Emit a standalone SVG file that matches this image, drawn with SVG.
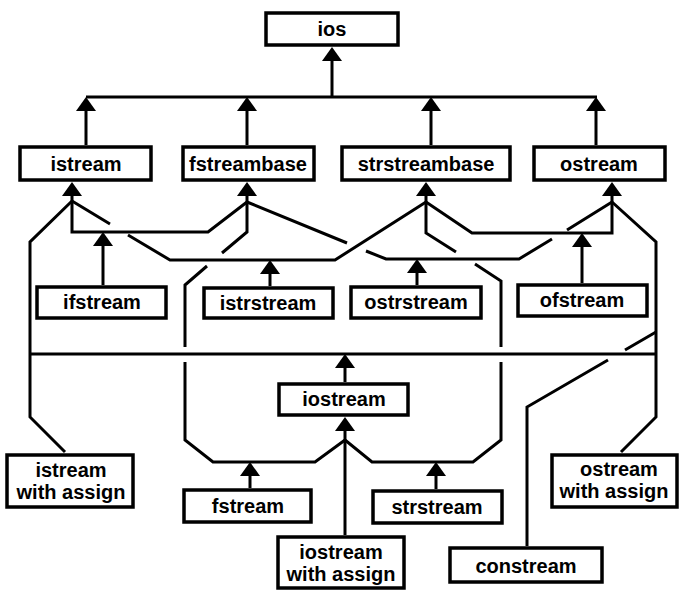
<svg xmlns="http://www.w3.org/2000/svg" xmlns:xlink="http://www.w3.org/1999/xlink" width="688" height="596" viewBox="0 0 688 596">
<style>
.box rect{fill:#fff;stroke:#000;stroke-width:3.5}
.box text{font-family:"Liberation Sans",Arial,sans-serif;font-weight:bold;font-size:20px;text-anchor:middle;fill:#000}
.c path{fill:none;stroke:#000;stroke-width:3;stroke-linejoin:miter}
.c use{fill:#000}
</style>
<defs>
<path id="ah" d="M0,0 L-10,14 L10,14 Z"/>
</defs>
<rect width="688" height="596" fill="#fff"/>
<g id="connectors" class="c">
<path d="M86,97 H597"/>
<path d="M332,97 V58"/>
<path d="M86,145 V105 M247,145 V105 M431,145 V105 M596,145 V105"/>
<path d="M72,190 V201 M247,190 V202 M426,190 V202 M612,190 V202"/>
<path d="M72,201 L30,242 V417 L65,452"/>
<path d="M72,201 V232 H208 L247,202"/>
<path d="M103,240 V285"/>
<path d="M72,201 L110,224 M128,235 L170,260 H335 L426,202"/>
<path d="M270,268 V286"/>
<path d="M247,202 V232 L222,253 M207,266 L185,285 V347 M185,362 V440 L213,462 H315 L345,440"/>
<path d="M250,470 V488"/>
<path d="M247,202 L347,243 M366,251 L386,259 H519 L552,239 M567,230 L612,202"/>
<path d="M417,267 V285"/>
<path d="M426,202 V233 L456,252 M475,264 L501,281 V347 M501,362 V440 L473,462 H372 L345,440"/>
<path d="M436,470 V489"/>
<path d="M426,202 L472,233 H612 V202"/>
<path d="M582,241 V283"/>
<path d="M612,202 L656,242 V417 L621,452"/>
<path d="M30,354 H656"/>
<path d="M345,362 V382"/>
<path d="M345,425 V535"/>
<path d="M656,332 L625,350 M608,360 L527,407 V546"/>
<use xlink:href="#ah" x="332" y="47"/>
<use xlink:href="#ah" x="86" y="97"/>
<use xlink:href="#ah" x="247" y="97"/>
<use xlink:href="#ah" x="431" y="97"/>
<use xlink:href="#ah" x="596" y="97"/>
<use xlink:href="#ah" x="72" y="182"/>
<use xlink:href="#ah" x="247" y="182"/>
<use xlink:href="#ah" x="426" y="182"/>
<use xlink:href="#ah" x="612" y="182"/>
<use xlink:href="#ah" x="103" y="232"/>
<use xlink:href="#ah" x="270" y="260"/>
<use xlink:href="#ah" x="417" y="259"/>
<use xlink:href="#ah" x="582" y="233"/>
<use xlink:href="#ah" x="345" y="354"/>
<use xlink:href="#ah" x="345" y="417"/>
<use xlink:href="#ah" x="250" y="462"/>
<use xlink:href="#ah" x="436" y="462"/>
</g>
<g id="ios" class="box"><rect x="266" y="13" width="132" height="32"/><text x="332" y="36">ios</text></g>
<g id="istream" class="box"><rect x="20" y="147" width="131" height="33"/><text x="86" y="171">istream</text></g>
<g id="fstreambase" class="box"><rect x="183" y="147" width="131" height="33"/><text x="248" y="171">fstreambase</text></g>
<g id="strstreambase" class="box"><rect x="342" y="147" width="168" height="33"/><text x="426" y="171">strstreambase</text></g>
<g id="ostream" class="box"><rect x="534" y="147" width="131" height="33"/><text x="599" y="171">ostream</text></g>
<g id="ifstream" class="box"><rect x="37" y="287" width="129" height="31"/><text x="102" y="309">ifstream</text></g>
<g id="istrstream" class="box"><rect x="204" y="288" width="129" height="30"/><text x="268" y="310">istrstream</text></g>
<g id="ostrstream" class="box"><rect x="351" y="287" width="130" height="31"/><text x="416" y="309">ostrstream</text></g>
<g id="ofstream" class="box"><rect x="518" y="285" width="129" height="31"/><text x="582" y="307">ofstream</text></g>
<g id="iostream" class="box"><rect x="279" y="384" width="129" height="31"/><text x="344" y="406">iostream</text></g>
<g id="istream_withassign" class="box"><rect x="7" y="455" width="126" height="52"/><text x="71" y="477">istream</text><text x="71" y="499">with assign</text></g>
<g id="fstream" class="box"><rect x="184" y="490" width="127" height="32"/><text x="248" y="513">fstream</text></g>
<g id="strstream" class="box"><rect x="373" y="491" width="129" height="32"/><text x="437" y="514">strstream</text></g>
<g id="iostream_withassign" class="box"><rect x="278" y="537" width="126" height="51"/><text x="341" y="559">iostream</text><text x="341" y="581">with assign</text></g>
<g id="constream" class="box"><rect x="450" y="548" width="152" height="34"/><text x="526" y="573">constream</text></g>
<g id="ostream_withassign" class="box"><rect x="552" y="455" width="125" height="52"/><text x="619" y="476">ostream</text><text x="614" y="498">with assign</text></g>
</svg>
